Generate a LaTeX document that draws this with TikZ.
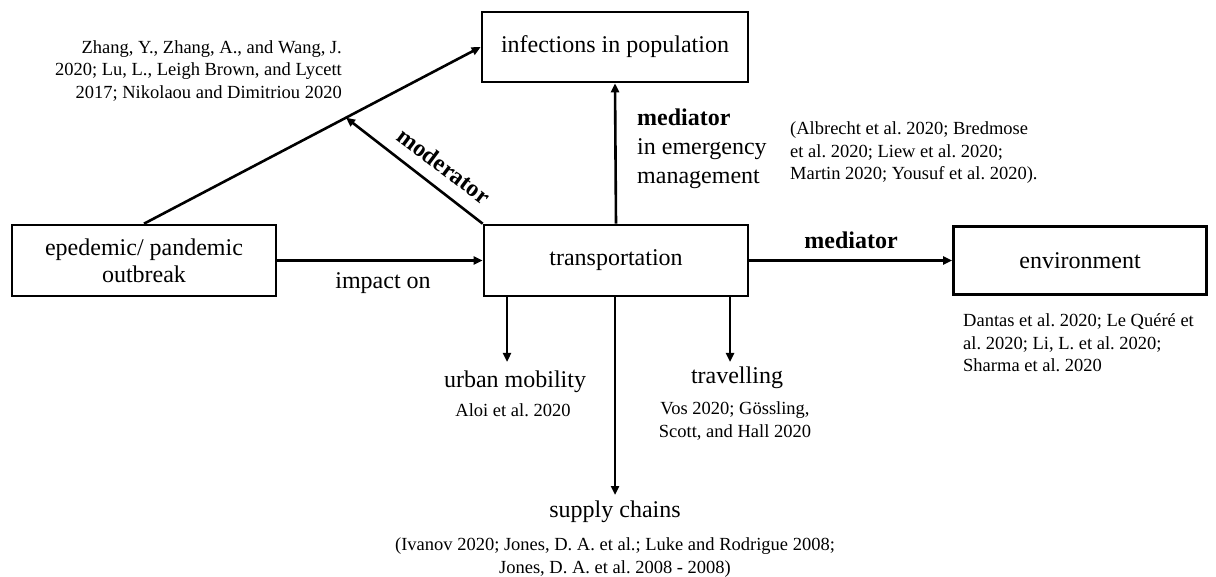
\documentclass[tikz,border=0pt]{standalone}
\usepackage{fontspec}
\setmainfont{Liberation Serif}
\usetikzlibrary{arrows.meta,calc}
\frenchspacing
\begin{document}
\begin{tikzpicture}[x=1pt,y=-1pt,
  box/.style={draw,line width=2.6pt,rectangle,inner sep=0pt,font=\fontsize{24}{27}\selectfont,align=center},
  arr/.style={line width=2.6pt,-{Stealth[length=9pt,width=8pt,inset=0pt]}},
  lab/.style={inner sep=0pt,font=\fontsize{24}{29}\selectfont},
  blab/.style={inner sep=0pt,font=\fontsize{24}{29}\selectfont\bfseries},
  cite/.style={inner sep=0pt,font=\fontsize{18.5}{22.5}\selectfont}]
\useasboundingbox (0,0) rectangle (1216,577);
\node[box,minimum width=266pt,minimum height=70pt] (inf) at (615,47) {infections in population};
\node[box,minimum width=264pt,minimum height=71pt] (epi) at (144,260.5) {epedemic/ pandemic\\outbreak};
\node[box,minimum width=264pt,minimum height=71pt] (trans) at (616,260.5) {transportation};
\node[box,minimum width=253pt,minimum height=68pt] (env) at (1080,260.5) {environment};

\draw[arr] (epi) -- (trans);
\draw[arr] (trans.north) -- (inf.south);
\draw[arr] (trans) -- (env);
\draw[arr] (epi.north) -- (inf.west);
\coordinate (modend) at ($(epi.north)!0.6!(inf.west)$);
\draw[arr] (trans.north west) -- (modend);

\coordinate (um) at (507,362);
\coordinate (sc) at (615,495);
\coordinate (tr) at (730,362);
\draw[arr] (trans.south -| um) -- (um);
\draw[arr] (trans.south -| sc) -- (sc);
\draw[arr] (trans.south -| tr) -- (tr);

\node[cite,anchor=east,align=right] (zh) at (342,71) {Zhang, Y., Zhang, A., and Wang, J.\\2020; Lu, L., Leigh Brown, and Lycett\\2017; Nikolaou and Dimitriou 2020};
\node[blab,rotate=-37] (mod) at (444,166) {moderator};
\node[lab,anchor=west,align=left] (med1) at (637,149) {\textbf{mediator}\\in emergency\\management};
\node[cite,anchor=west,align=left] (alb) at (790,153) {(Albrecht et al. 2020; Bredmose\\et al. 2020; Liew et al. 2020;\\Martin 2020; Yousuf et al. 2020).};
\node[blab] (med2) at (851,240) {mediator};
\node[lab] (imp) at (383,283) {impact on};
\node[cite,anchor=west,align=left] (dan) at (963,343) {Dantas et al. 2020; Le Quéré et\\al. 2020; Li, L. et al. 2020;\\Sharma et al. 2020};
\node[lab] (umt) at (515,382) {urban mobility};
\node[cite] (umc) at (513,410) {Aloi et al. 2020};
\node[lab] (trt) at (737,378) {travelling};
\node[cite,align=center] (trc) at (735,421) {Vos 2020; Gössling,\\Scott, and Hall 2020};
\node[lab] (sct) at (615,512) {supply chains};
\node[cite,align=center] (scc) at (615,557.5) {(Ivanov 2020; Jones, D. A. et al.; Luke and Rodrigue 2008;\\Jones, D. A. et al. 2008 - 2008)};
\end{tikzpicture}
\end{document}
